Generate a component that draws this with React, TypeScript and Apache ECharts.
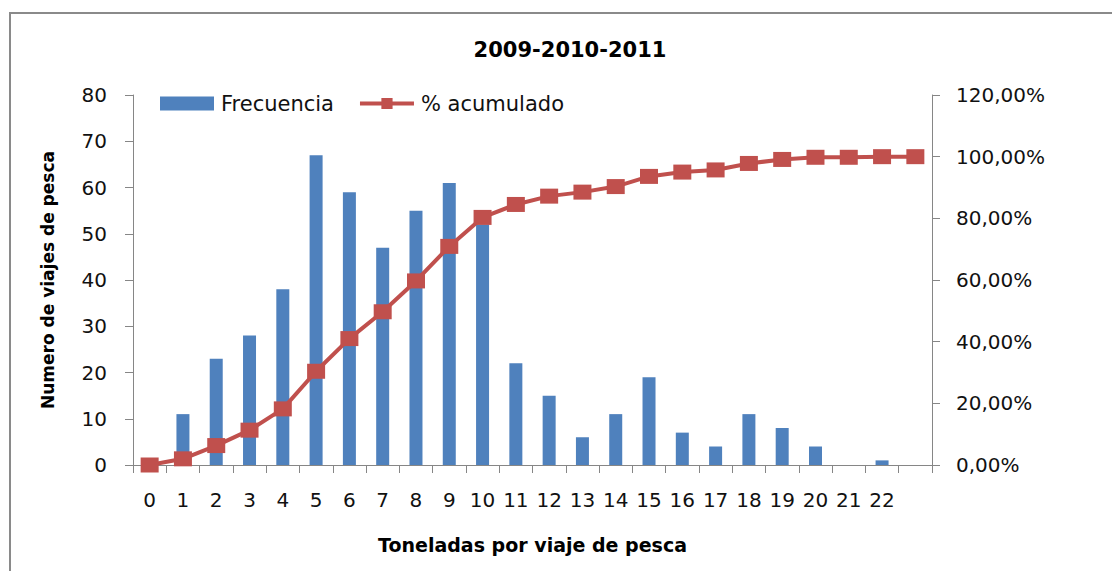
import React, { useEffect, useRef } from 'react';
import * as echarts from 'echarts';

const titleText = '2009-2010-2011';
const categories = ['0', '1', '2', '3', '4', '5', '6', '7', '8', '9', '10', '11', '12', '13', '14', '15', '16', '17', '18', '19', '20', '21', '22', ''];
const frecuencia: (number | null)[] = [0, 11, 23, 28, 38, 67, 59, 47, 55, 61, 52, 22, 15, 6, 11, 19, 7, 4, 11, 8, 4, 0, 1, null];
const acumulado = [0, 2.0, 6.3, 11.3, 18.2, 30.4, 41.0, 49.7, 59.7, 70.9, 80.3, 84.5, 87.2, 88.5, 90.3, 93.6, 95.0, 95.7, 97.8, 99.1, 99.8, 99.8, 100, 100];
const leftTicks = { min: 0, max: 80, interval: 10 };
const rightTicks = { min: 0, max: 120, interval: 20 };

const FONT = 'DejaVu Sans';
const AXIS_COLOR = '#868686';

export default function App() {
  const ref = useRef<HTMLDivElement>(null);
  useEffect(() => {
    if (!ref.current) return;
    const chart = echarts.init(ref.current, null, { renderer: 'svg' });
    chart.setOption({
      animation: false,
      backgroundColor: '#ffffff',
      textStyle: { fontFamily: FONT },
      title: {
        text: titleText,
        left: 565,
        textAlign: 'center',
        top: 34,
        textStyle: { fontFamily: FONT, fontWeight: 'bold', fontSize: 21, color: '#000' },
      },
      legend: {
        left: 155,
        top: 88,
        itemWidth: 54,
        itemHeight: 14,
        itemGap: 24,
        textStyle: { fontFamily: FONT, fontSize: 21, color: '#111', padding: [0, 0, 0, 2] },
        data: [
          { name: 'Frecuencia', icon: 'rect' },
          { name: '% acumulado', lineStyle: { width: 4 } },
        ],
      },
      grid: { left: 133, right: 180, top: 95, bottom: 106, containLabel: false },
      xAxis: {
        type: 'category',
        data: categories,
        boundaryGap: true,
        name: 'Toneladas por viaje de pesca',
        nameLocation: 'middle',
        nameGap: 70,
        nameTextStyle: { fontFamily: FONT, fontWeight: 'bold', fontSize: 19, color: '#000' },
        axisLine: { lineStyle: { color: AXIS_COLOR, width: 1 } },
        axisTick: { show: true, length: 8, lineStyle: { color: AXIS_COLOR }, interval: 0 },
        axisLabel: { interval: 0, margin: 25, fontFamily: FONT, fontSize: 20, color: '#111' },
        splitLine: { show: false },
      },
      yAxis: [
        {
          type: 'value',
          min: leftTicks.min,
          max: leftTicks.max,
          interval: leftTicks.interval,
          name: 'Numero de viajes de pesca',
          nameLocation: 'middle',
          nameGap: 77,
          nameTextStyle: { fontFamily: FONT, fontWeight: 'bold', fontSize: 17, color: '#000' },
          axisLine: { show: true, lineStyle: { color: AXIS_COLOR, width: 1 } },
          axisTick: { show: true, length: 8, lineStyle: { color: AXIS_COLOR } },
          axisLabel: { margin: 26, fontFamily: FONT, fontSize: 20, color: '#111' },
          splitLine: { show: false },
        },
        {
          type: 'value',
          position: 'right',
          min: rightTicks.min,
          max: rightTicks.max,
          interval: rightTicks.interval,
          axisLine: { show: true, lineStyle: { color: AXIS_COLOR, width: 1 } },
          axisTick: { show: true, length: 8, lineStyle: { color: AXIS_COLOR } },
          axisLabel: {
            margin: 24,
            fontFamily: FONT,
            fontSize: 20,
            color: '#111',
            formatter: (v: number) => v.toFixed(2).replace('.', ',') + '%',
          },
          splitLine: { show: false },
        },
      ],
      series: [
        {
          name: 'Frecuencia',
          type: 'bar',
          data: frecuencia,
          barWidth: 13,
          yAxisIndex: 0,
          itemStyle: { color: '#4F81BD' },
          z: 2,
        },
        {
          name: '% acumulado',
          type: 'line',
          data: acumulado,
          yAxisIndex: 1,
          symbol: 'rect',
          symbolSize: [18, 15],
          lineStyle: { color: '#C0504D', width: 4 },
          itemStyle: { color: '#C0504D' },
          z: 3,
        },
      ],
      graphic: [
        {
          type: 'rect',
          shape: { x: 10, y: 13, width: 1200, height: 700 },
          style: { fill: 'none', stroke: '#8a8a8a', lineWidth: 2 },
          silent: true,
          z: 0,
        },
      ],
    });
    return () => chart.dispose();
  }, []);
  return (
    <div
      ref={ref}
      style={{ position: 'fixed', left: 0, top: 0, width: 1112, height: 571, background: '#fff' }}
    />
  );
}
